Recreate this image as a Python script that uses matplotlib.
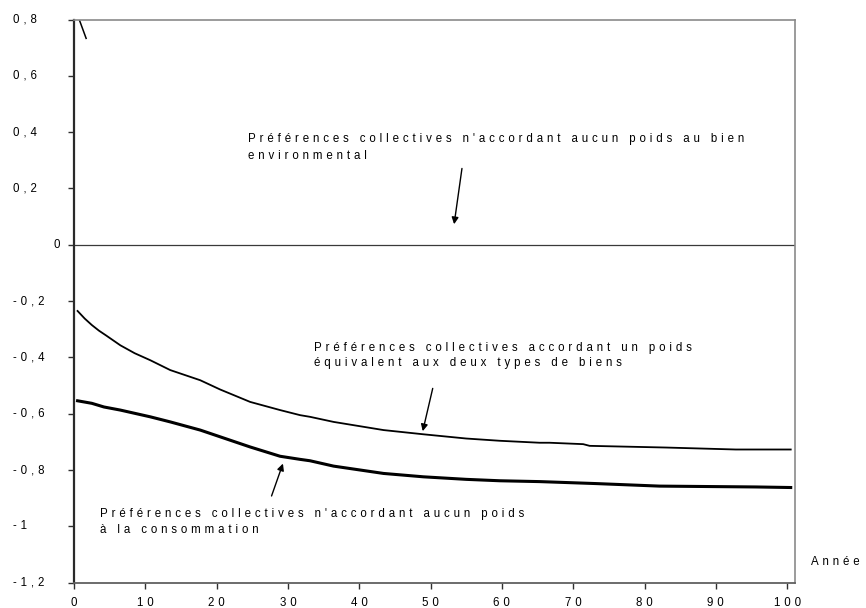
import numpy as np
import matplotlib
matplotlib.use("Agg")
import matplotlib.pyplot as plt
from matplotlib.transforms import blended_transform_factory

plt.rcParams['font.family'] = ['Liberation Sans', 'DejaVu Sans']

# ---- data ----
upper_x = [0.5, 1.5, 2.5, 3.5, 4.5, 6.5, 8.5, 10.7, 13.5, 17.7, 20.5, 24.7, 28.9, 31.7, 33.1, 36.4,
           43.4, 49.0, 55.0, 59.7, 65.3, 66.7, 71.4, 72.3, 83.0, 92.8, 100.5]
upper_y = [-0.235, -0.262, -0.285, -0.305, -0.322, -0.357, -0.385, -0.410, -0.445, -0.481,
           -0.514, -0.558, -0.587, -0.605, -0.611, -0.629, -0.658, -0.673, -0.688, -0.696,
           -0.703, -0.703, -0.708, -0.714, -0.720, -0.727, -0.727]

lower_x = [0.5, 2.5, 4.2, 6.5, 10.7, 13.5, 17.7, 20.5, 24.7, 28.9, 31.7, 33.1, 36.4, 43.4,
           49.0, 55.0, 59.7, 65.3, 73.2, 82.1, 95.6, 100.5]
lower_y = [-0.554, -0.563, -0.576, -0.587, -0.611, -0.629, -0.658, -0.682, -0.718, -0.751,
           -0.762, -0.767, -0.786, -0.812, -0.824, -0.833, -0.838, -0.841, -0.848, -0.857,
           -0.860, -0.862]

zero_x = [0, 101.1]
zero_y = [0, 0]

steep_x = [0.5, 1.7]
steep_y = [0.816, 0.733]

x_ticks = [0, 10, 20, 30, 40, 50, 60, 70, 80, 90, 100]
y_ticks = [0.8, 0.6, 0.4, 0.2, 0, -0.2, -0.4, -0.6, -0.8, -1, -1.2]
y_tick_labels = ["0,8", "0,6", "0,4", "0,2", "0", "-0,2", "-0,4", "-0,6", "-0,8", "-1", "-1,2"]

label_env = ["Préférences collectives n'accordant aucun poids au bien", "environmental"]
label_equal = ["Préférences collectives accordant un poids", "équivalent aux deux types de biens"]
label_cons = ["Préférences collectives n'accordant aucun poids", "à la consommation"]
x_title = "Année"

SP = '\u2004'


def spaced(s):
    return SP.join(s)


fig = plt.figure(figsize=(8.66, 6.08), dpi=100)
ax = fig.add_axes([74 / 866, (608 - 582.7) / 608, (795 - 74) / 866, (582.7 - 19.5) / 608])

ax.plot(zero_x, zero_y, color='#3a3a3a', lw=0.9, solid_capstyle='butt')
ax.plot(steep_x, steep_y, color='black', lw=1.1)
ax.plot(upper_x, upper_y, color='black', lw=1.3)
ax.plot(lower_x, lower_y, color='black', lw=2.2)

ax.set_xlim(0, 101.1)
ax.set_ylim(-1.2, 0.8)

ax.spines['left'].set_color('#2a2a2a')
ax.spines['left'].set_linewidth(1.6)
ax.spines['bottom'].set_color('#606060')
ax.spines['bottom'].set_linewidth(1.3)
ax.spines['top'].set_color('#8a8a8a')
ax.spines['top'].set_linewidth(1.2)
ax.spines['right'].set_color('#8a8a8a')
ax.spines['right'].set_linewidth(1.2)

ax.set_xticks(x_ticks)
ax.set_xticklabels([spaced(str(v)) for v in x_ticks], fontsize=8.3)
ax.tick_params(axis='x', direction='out', length=4, width=1, color='#303030', pad=6)

ax.set_yticks(y_ticks)
ax.set_yticklabels([])
ax.tick_params(axis='y', direction='out', length=4.5, width=1, color='#303030')
trans = blended_transform_factory(fig.transFigure, ax.transData)
for v, lab in zip(y_ticks, y_tick_labels):
    xpos = 53 / 866 if lab == "0" else 13 / 866
    ax.text(xpos, v, spaced(lab), transform=trans, ha='left', va='center', fontsize=8.3,
            clip_on=False)

fig.text(811 / 866, 1 - 565 / 608, spaced(x_title), ha='left', va='baseline', fontsize=8.3)

# annotation texts (one text per line, baselines from the reference)
def lines(x, ys, texts):
    for yy, t in zip(ys, texts):
        ax.text(x, yy, spaced(t), ha='left', va='baseline', fontsize=8.3)

lines(24.35, [0.365, 0.304], label_env)
lines(33.6, [-0.376, -0.432], label_equal)
lines(3.7, [-0.967, -1.024], label_cons)

arrow = dict(arrowstyle='-|>', color='black', lw=1.0, mutation_scale=10,
             shrinkA=0, shrinkB=0)
ax.annotate('', xy=(53.3, 0.073), xytext=(54.4, 0.271), arrowprops=arrow)
ax.annotate('', xy=(48.9, -0.662), xytext=(50.3, -0.51), arrowprops=arrow)
ax.annotate('', xy=(29.3, -0.777), xytext=(27.7, -0.892), arrowprops=arrow)

fig.savefig('out.png', dpi=100)
